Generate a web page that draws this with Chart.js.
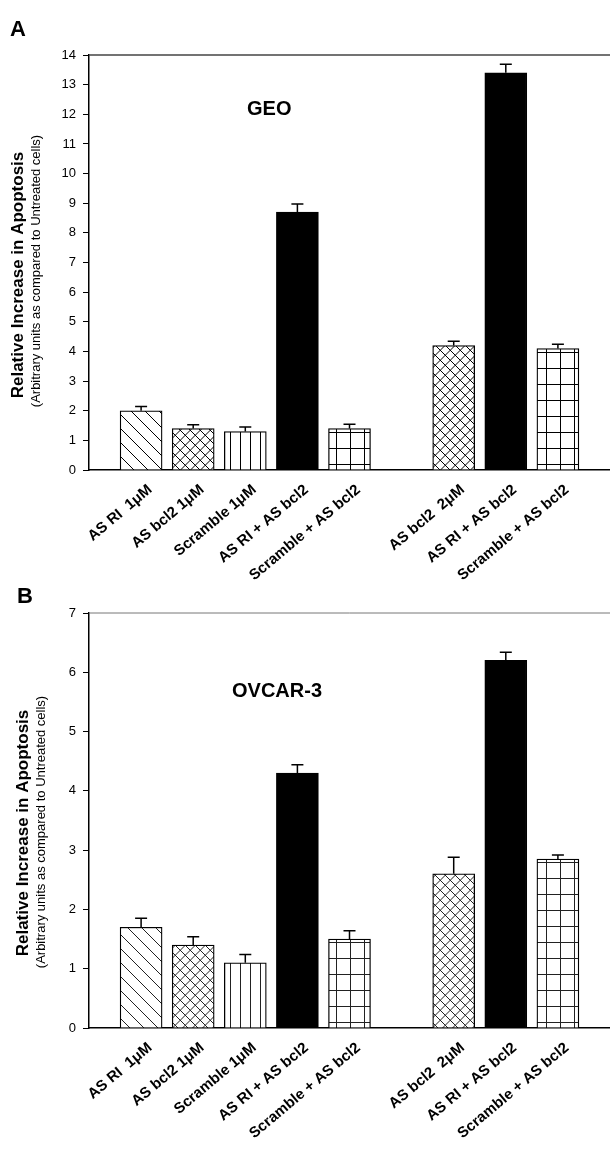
<!DOCTYPE html>
<html>
<head>
<meta charset="utf-8">
<script src="https://cdn.jsdelivr.net/npm/chart.js@4.4.1/dist/chart.umd.min.js"></script>
<style>
  body { margin: 0; background: #fff; width: 610px; height: 1158px; position: relative; overflow: hidden;
         font-family: "Liberation Sans", Arial, sans-serif; }
  .panel { position: absolute; left: 0; width: 610px; }
  #wrapA { top: 0; height: 590px; }
  #wrapB { top: 590px; height: 568px; }
  .tag { position: absolute; font-weight: bold; font-size: 22px; line-height: 1; }
  .name { position: absolute; font-weight: bold; font-size: 20px; line-height: 1; }
</style>
</head>
<body>
<div class="panel" id="wrapA"><canvas id="chartA"></canvas></div>
<div class="panel" id="wrapB"><canvas id="chartB"></canvas></div>
<div class="tag" style="left:10px; top:18px;">A</div>
<div class="tag" style="left:17px; top:585px;">B</div>
<div class="name" style="left:247px; top:98px;">GEO</div>
<div class="name" style="left:232px; top:680px;">OVCAR-3</div>

<script>
// empty slots at both ends and between the two groups
const categories = ['', 'AS RI  1\u03bcM', 'AS bcl2 1\u03bcM', 'Scramble 1\u03bcM', 'AS RI + AS bcl2', 'Scramble + AS bcl2',
                    '', 'AS bcl2  2\u03bcM', 'AS RI + AS bcl2', 'Scramble + AS bcl2', ''];
const fills = [null, 'diag', 'cross', 'vert', 'solid', 'grid', null, 'cross', 'solid', 'grid', null];

const geoValues = [null, 2.0, 1.4, 1.3, 8.7, 1.4, null, 4.2, 13.4, 4.1, null];
const geoErrors = [null, 0.14, 0.13, 0.15, 0.27, 0.14, null, 0.14, 0.29, 0.14, null];
const geoTicks = [0, 14];

const ovcarValues = [null, 1.7, 1.4, 1.1, 4.3, 1.5, null, 2.6, 6.2, 2.85, null];
const ovcarErrors = [null, 0.15, 0.14, 0.14, 0.14, 0.14, null, 0.28, 0.14, 0.07, null];
const ovcarTicks = [0, 7];

function makePattern(kind, color) {
    if (!kind) return 'rgba(0,0,0,0)';
    if (kind === 'solid') return '#000';
    const c = document.createElement('canvas');
    const g = c.getContext('2d');
    let w = 14, h = 14;
    if (kind === 'cross') { w = 10.5; h = 10.5; }
    if (kind === 'vert') { w = 10.5; h = 10; }
    if (kind === 'grid') { w = 14; h = 16; }
    c.width = w; c.height = h;
    g.fillStyle = '#fff';
    g.fillRect(0, 0, w, h);
    g.strokeStyle = color;
    g.lineWidth = 1;
    g.beginPath();
    if (kind === 'diag' || kind === 'cross') {
        g.moveTo(-1, -1); g.lineTo(w + 1, h + 1);
        g.moveTo(-1, h - 1); g.lineTo(1, h + 1);
        g.moveTo(w - 1, -1); g.lineTo(w + 1, 1);
    }
    if (kind === 'cross') {
        g.moveTo(w + 1, -1); g.lineTo(-1, h + 1);
        g.moveTo(1, -1); g.lineTo(-1, 1);
        g.moveTo(w + 1, h - 1); g.lineTo(w - 1, h + 1);
    }
    if (kind === 'vert' || kind === 'grid') {
        g.moveTo(0.5, 0); g.lineTo(0.5, h);
    }
    if (kind === 'grid') {
        g.moveTo(0, 0.5); g.lineTo(w, 0.5);
    }
    g.stroke();
    return g.createPattern(c, 'repeat');
}

const errorBars = {
    id: 'errorBars',
    afterDatasetsDraw(chart) {
        const { ctx, scales: { y } } = chart;
        const ds = chart.data.datasets[0];
        const meta = chart.getDatasetMeta(0);
        ctx.save();
        ctx.strokeStyle = '#000';
        ctx.lineWidth = 1.5;
        meta.data.forEach((bar, i) => {
            if (ds.data[i] == null) return;
            const top = y.getPixelForValue(ds.data[i] + ds.errors[i]);
            ctx.beginPath();
            ctx.moveTo(bar.x, bar.y);
            ctx.lineTo(bar.x, top);
            ctx.moveTo(bar.x - 6, top);
            ctx.lineTo(bar.x + 6, top);
            ctx.stroke();
        });
        ctx.restore();
    }
};

const frameTop = {
    id: 'frameTop',
    beforeDatasetsDraw(chart, args, opts) {
        const { ctx, chartArea } = chart;
        ctx.save();
        ctx.strokeStyle = opts.color;
        ctx.lineWidth = opts.width;
        ctx.beginPath();
        ctx.moveTo(chartArea.left, chartArea.top);
        ctx.lineTo(chartArea.right, chartArea.top);
        ctx.stroke();
        ctx.restore();
    }
};

const yTitle = {
    id: 'yTitle',
    afterDraw(chart, args, opts) {
        const { ctx } = chart;
        ctx.save();
        ctx.fillStyle = '#000';
        ctx.textAlign = 'center';
        ctx.textBaseline = 'middle';
        ctx.translate(opts.x1, opts.cy1);
        ctx.rotate(-Math.PI / 2);
        ctx.font = 'bold 17px "Liberation Sans", Arial, sans-serif';
        ctx.fillText('Relative Increase in Apoptosis', 0, 0);
        ctx.restore();
        ctx.save();
        ctx.fillStyle = '#000';
        ctx.textAlign = 'center';
        ctx.textBaseline = 'middle';
        ctx.translate(opts.x2, opts.cy2);
        ctx.rotate(-Math.PI / 2);
        ctx.font = '13px "Liberation Sans", Arial, sans-serif';
        ctx.fillText('(Arbitrary units as compared to Untreated cells)', 0, 0);
        ctx.restore();
    }
};

function buildChart(id, values, errors, ticks, cfg) {
    const ctx = document.getElementById(id).getContext('2d');
    return new Chart(ctx, {
        type: 'bar',
        data: {
            labels: categories,
            datasets: [{
                data: values,
                errors: errors,
                backgroundColor: fills.map(f => makePattern(f, cfg.hatch)),
                borderColor: '#000',
                borderWidth: 1.3,
                barThickness: 42
            }]
        },
        options: {
            responsive: true,
            maintainAspectRatio: false,
            animation: false,
            layout: { padding: { top: cfg.top, left: 0, right: 0, bottom: 0 } },
            plugins: {
                legend: { display: false },
                tooltip: { enabled: false },
                frameTop: { color: cfg.frameColor, width: cfg.frameWidth },
                yTitle: cfg.title
            },
            scales: {
                x: {
                    type: 'category',
                    offset: false,
                    grid: { display: false },
                    border: { color: '#000', width: 1.5 },
                    ticks: {
                        autoSkip: false, minRotation: 40, maxRotation: 40, padding: 3, labelOffset: 9,
                        color: '#000',
                        font: { family: '"Liberation Sans", Arial, sans-serif', size: 15, weight: 'bold' }
                    },
                    afterFit: s => { s.height = cfg.xHeight; s.paddingLeft = 0; s.paddingRight = 0; }
                },
                y: {
                    min: ticks[0],
                    max: ticks[1],
                    grid: { drawOnChartArea: false, color: '#000', tickLength: 6 },
                    border: { color: '#000', width: 1.5 },
                    ticks: {
                        stepSize: 1, padding: 7, color: '#000',
                        font: { family: '"Liberation Sans", Arial, sans-serif', size: 13 }
                    },
                    afterFit: s => { s.width = 89; }
                }
            }
        },
        plugins: [errorBars, frameTop, yTitle]
    });
}

buildChart('chartA', geoValues, geoErrors, geoTicks, {
    top: 55, xHeight: 120, hatch: '#000', frameColor: '#444', frameWidth: 1.5,
    title: { x1: 18, cy1: 275, x2: 36, cy2: 271 }
});
buildChart('chartB', ovcarValues, ovcarErrors, ovcarTicks, {
    top: 23, xHeight: 130, hatch: '#222', frameColor: '#777', frameWidth: 1,
    title: { x1: 23, cy1: 243, x2: 41, cy2: 242 }
});
</script>
</body>
</html>
